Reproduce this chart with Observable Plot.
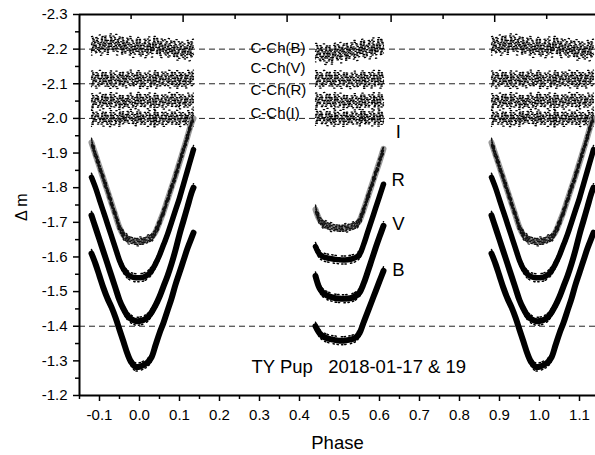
<!DOCTYPE html>
<html><head><meta charset="utf-8">
<script src="https://cdn.jsdelivr.net/npm/d3@7"></script>
<script src="https://cdn.jsdelivr.net/npm/@observablehq/plot@0.6"></script>
<style>html,body{margin:0;padding:0;background:#fff}svg{display:block}</style>
</head><body><div id="chart"></div>
<script>
// ---- Light curves: primary eclipse (shown at phase and phase+1) ----
const primaryPhase = [-0.12,-0.11,-0.10,-0.09,-0.08,-0.07,-0.06,-0.05,-0.04,-0.03,-0.02,-0.01,0.00,0.01,0.02,0.03,0.04,0.05,0.06,0.07,0.08,0.09,0.10,0.11,0.12,0.13,0.135];
const primaryI = [-1.930,-1.895,-1.860,-1.825,-1.790,-1.755,-1.720,-1.685,-1.663,-1.652,-1.648,-1.645,-1.645,-1.646,-1.650,-1.657,-1.672,-1.700,-1.730,-1.765,-1.800,-1.835,-1.872,-1.910,-1.948,-1.987,-2.000];
const primaryR = [-1.830,-1.800,-1.765,-1.730,-1.695,-1.660,-1.625,-1.590,-1.565,-1.550,-1.543,-1.540,-1.540,-1.542,-1.548,-1.560,-1.580,-1.605,-1.635,-1.665,-1.700,-1.735,-1.770,-1.810,-1.850,-1.890,-1.910];
const primaryV = [-1.720,-1.685,-1.650,-1.615,-1.580,-1.545,-1.510,-1.475,-1.450,-1.430,-1.420,-1.415,-1.415,-1.418,-1.425,-1.440,-1.460,-1.485,-1.515,-1.545,-1.580,-1.620,-1.665,-1.705,-1.745,-1.785,-1.800];
const primaryB = [-1.610,-1.580,-1.545,-1.510,-1.480,-1.455,-1.425,-1.390,-1.355,-1.320,-1.295,-1.283,-1.283,-1.288,-1.295,-1.310,-1.345,-1.380,-1.410,-1.445,-1.480,-1.520,-1.555,-1.590,-1.625,-1.655,-1.670];

// ---- Light curves: secondary eclipse ----
const secondaryPhase = [0.44,0.45,0.46,0.47,0.48,0.49,0.50,0.51,0.52,0.53,0.54,0.55,0.56,0.57,0.58,0.59,0.60,0.61];
const secondaryI = [-1.737,-1.708,-1.695,-1.690,-1.686,-1.684,-1.683,-1.683,-1.685,-1.687,-1.692,-1.705,-1.735,-1.770,-1.805,-1.840,-1.875,-1.912];
const secondaryR = [-1.630,-1.608,-1.600,-1.597,-1.595,-1.593,-1.592,-1.591,-1.592,-1.594,-1.598,-1.607,-1.635,-1.670,-1.705,-1.740,-1.775,-1.810];
const secondaryV = [-1.545,-1.510,-1.495,-1.488,-1.484,-1.481,-1.480,-1.479,-1.480,-1.482,-1.487,-1.497,-1.522,-1.555,-1.590,-1.625,-1.658,-1.690];
const secondaryB = [-1.400,-1.380,-1.370,-1.365,-1.362,-1.360,-1.358,-1.358,-1.360,-1.362,-1.367,-1.380,-1.410,-1.440,-1.470,-1.500,-1.530,-1.560];

// ---- Comparison - check star differences ----
const compPhaseP = [-0.12,-0.10,-0.08,-0.06,-0.04,-0.02,0.00,0.02,0.04,0.06,0.08,0.10,0.12,0.135];
const compBP = [-2.207,-2.212,-2.215,-2.214,-2.210,-2.207,-2.205,-2.206,-2.208,-2.205,-2.200,-2.198,-2.196,-2.200];
const compVP = [-2.112,-2.114,-2.113,-2.112,-2.114,-2.115,-2.113,-2.112,-2.113,-2.115,-2.114,-2.113,-2.114,-2.115];
const compRP = [-2.048,-2.050,-2.052,-2.050,-2.048,-2.050,-2.052,-2.051,-2.049,-2.050,-2.052,-2.051,-2.050,-2.050];
const compIP = [-2.000,-2.001,-2.000,-1.999,-2.002,-2.003,-2.001,-2.000,-1.999,-2.000,-2.001,-2.000,-1.999,-2.000];
const compPhaseS = [0.44,0.47,0.50,0.53,0.56,0.59,0.61];
const compBS = [-2.188,-2.186,-2.190,-2.195,-2.200,-2.204,-2.205];
const compVS = [-2.113,-2.114,-2.113,-2.112,-2.113,-2.114,-2.113];
const compRS = [-2.050,-2.052,-2.050,-2.048,-2.050,-2.051,-2.050];
const compIS = [-2.003,-2.002,-2.000,-2.001,-2.002,-2.001,-2.000];

// ---- Reference levels and labels ----
const refLevels = [-2.2,-2.1,-2.0,-1.4];
const compLabels = ["C-Ch(B)","C-Ch(V)","C-Ch(R)","C-Ch(I)"];
const compLabelY = [-2.204,-2.144,-2.081,-2.014];
const bandLabels = ["I","R","V","B"];
const bandLabelY = [-1.961,-1.821,-1.694,-1.561];
const titleText = "TY Pup   2018-01-17 & 19";

// ---- Axes ticks ----
const xDomain = [-0.15, 1.14];
const yDomain = [-1.2, -2.3];
const xMajor = [-0.1,0,0.1,0.2,0.3,0.4,0.5,0.6,0.7,0.8,0.9,1.0,1.1];
const xMinor = [-0.15,-0.05,0.05,0.15,0.25,0.35,0.45,0.55,0.65,0.75,0.85,0.95,1.05];
const yMajor = [-2.3,-2.2,-2.1,-2.0,-1.9,-1.8,-1.7,-1.6,-1.5,-1.4,-1.3,-1.2];
const yMinor = [-2.25,-2.15,-2.05,-1.95,-1.85,-1.75,-1.65,-1.55,-1.45,-1.35,-1.25];
const topMajor = [0.109,0.369,0.629,0.888];
const topMinor = [-0.021,0.239,0.5,0.759,1.018];

// ---- build tables ----
function rows(phases, mags, band, seg, shift = 0) {
  return phases.map((p, i) => ({phase: p + shift, mag: mags[i], band, seg}));
}
const curves = [];
for (const [band, pm, sm] of [["I",primaryI,secondaryI],["R",primaryR,secondaryR],["V",primaryV,secondaryV],["B",primaryB,secondaryB]]) {
  curves.push(...rows(primaryPhase, pm, band, band+"p0"));
  curves.push(...rows(primaryPhase, pm, band, band+"p1", 1));
  curves.push(...rows(secondaryPhase, sm, band, band+"s"));
}
const comps = [];
for (const [band, pm, sm] of [["B",compBP,compBS],["V",compVP,compVS],["R",compRP,compRS],["I",compIP,compIS]]) {
  comps.push(...rows(compPhaseP, pm, band, band+"p0"));
  comps.push(...rows(compPhaseP, pm, band, band+"p1", 1));
  comps.push(...rows(compPhaseS, sm, band, band+"s"));
}
const fmt = d => (Math.abs(d) < 1e-9 ? 0 : d).toFixed(1);

// ---- styling: speckle texture for the scatter (pixel offsets + dash patterns) ----
const dense = ["1.3 1.2 1.3 2.1 1.3 0.9 1.3 2.7 1.3 1.6", "1.3 2.2 1.3 1.0 1.3 1.9 1.3 1.3 1.3 3.0", "1.3 1.5 1.3 2.8 1.3 1.1 1.3 1.8"];
const medium = ["1.3 2.6 1.3 1.7 1.3 3.9 1.3 2.3 1.3 4.6", "1.3 3.4 1.3 2.0 1.3 5.1 1.3 1.6", "1.3 1.9 1.3 4.4 1.3 2.7 1.3 3.3"];
const sparse = ["1.3 6.5 1.3 9.8 1.3 4.2 1.3 13", "1.3 11 1.3 5.3 1.3 8.1 1.3 15", "1.3 7.7 1.3 12.5 1.3 5.9"];
const speckle = {
  B: [-10,-8,-6.5,-5,-3.5,-2,-0.5,1,2.5,4,5.5,7,8.5,10.5],
  V: [-8.5,-6.5,-5,-3.5,-2,-0.5,1,2.5,4,5.5,7,9],
  R: [-8,-6,-4.5,-3,-1.5,0,1.5,3,4.5,6,8],
  I: [-8,-6,-4.5,-3,-1.5,0,1.5,3,4.5,6,8]
};
const compMarks = [];
for (const band of ["B","V","R","I"]) {
  const data = comps.filter(d => d.band === band);
  const core = band === "B" ? 4.5 : 3.5;
  speckle[band].forEach((dy, k) => {
    const a = Math.abs(dy);
    const pats = a <= core ? dense : a <= core + 3.5 ? medium : sparse;
    compMarks.push(Plot.line(data, {x: "phase", y: "mag", z: "seg", dy, curve: "catmull-rom",
      stroke: "#000", strokeWidth: 1.3, strokeDasharray: pats[k % 3],
      strokeDashoffset: (k * 3.7) % 9}));
  });
}
const curveStyle = {
  B: {stroke: "#000", strokeWidth: 6},
  V: {stroke: "#000", strokeWidth: 6},
  R: {stroke: "#000", strokeWidth: 5.5}
};
const curveMarks = [];
// I band: open-circle symbols -> grey speckled ribbon
{
  const data = curves.filter(d => d.band === "I");
  curveMarks.push(Plot.line(data, {x: "phase", y: "mag", z: "seg", curve: "catmull-rom", stroke: "#9a9a9a", strokeWidth: 6}));
  [-3, -1.5, 0, 1.5, 3].forEach((dy, k) => {
    curveMarks.push(Plot.line(data, {x: "phase", y: "mag", z: "seg", curve: "catmull-rom", dy,
      stroke: "#111", strokeWidth: 1.4, strokeDasharray: dense[k % 3], strokeDashoffset: (k * 2.3) % 5}));
  });
  [-4.5, 4.5].forEach((dy, k) => {
    curveMarks.push(Plot.line(data, {x: "phase", y: "mag", z: "seg", curve: "catmull-rom", dy,
      stroke: "#111", strokeWidth: 1.3, strokeDasharray: sparse[k % 3], strokeDashoffset: k * 4}));
  });
}
for (const band of ["R","V","B"]) {
  const data = curves.filter(d => d.band === band);
  curveMarks.push(Plot.line(data, {x: "phase", y: "mag", z: "seg", curve: "catmull-rom", ...curveStyle[band]}));
  [-4, 4].forEach((dy, k) => {
    curveMarks.push(Plot.line(data, {x: "phase", y: "mag", z: "seg", curve: "catmull-rom", dy,
      stroke: "#000", strokeWidth: 1.5, strokeDasharray: medium[(k + 1) % 3], strokeDashoffset: k * 3}));
  });
}

const chart = Plot.plot({
  width: 595, height: 455,
  marginLeft: 79, marginRight: 0, marginTop: 14, marginBottom: 60,
  style: {fontFamily: "'Liberation Sans', Arial, sans-serif", fontSize: "15px", background: "#fff", color: "#000", overflow: "visible"},
  x: {domain: xDomain},
  y: {domain: yDomain},
  marks: [
    Plot.ruleY(refLevels, {stroke: "#222", strokeWidth: 1, strokeDasharray: "6 4"}),
    ...compMarks,
    ...curveMarks,
    Plot.text(compLabels, {x: () => 0.2775, y: (d, i) => compLabelY[i], text: d => d, textAnchor: "start", fontSize: 15}),
    Plot.text(bandLabels, {x: () => 0.647, y: (d, i) => bandLabelY[i], text: d => d, fontSize: 18.5}),
    Plot.text([titleText], {x: () => 0.28, y: () => -1.281, text: d => d, textAnchor: "start", fontSize: 18.5}),
    Plot.axisX(xMajor, {tickSize: 6, tickPadding: 8, strokeWidth: 1.5, tickFormat: fmt, label: null}),
    Plot.axisX(xMinor, {tickSize: 4, strokeWidth: 1.5, tickFormat: () => "", label: null}),
    Plot.axisX(topMajor, {anchor: "top", tickSize: -7, strokeWidth: 1.5, tickFormat: () => "", label: null}),
    Plot.axisX(topMinor, {anchor: "top", tickSize: -4, strokeWidth: 1.5, tickFormat: () => "", label: null}),
    Plot.axisY(yMajor, {tickSize: 6, tickPadding: 6, strokeWidth: 1.5, tickFormat: fmt, label: null}),
    Plot.axisY(yMinor, {tickSize: 4, strokeWidth: 1.5, tickFormat: () => "", label: null}),
    Plot.ruleX([xDomain[0]], {strokeWidth: 2}),
    Plot.ruleY([yDomain[0], yDomain[1]], {strokeWidth: 2}),
    Plot.text(["Phase"], {frameAnchor: "bottom", dy: 48, text: d => d, fontSize: 18.5, lineAnchor: "middle"}),
    Plot.text(["\u0394 m"], {frameAnchor: "left", dx: -58, dy: 16, rotate: -90, text: d => d, fontSize: 16, lineAnchor: "middle"})
  ]
});
document.getElementById("chart").append(chart);
d3.select(chart).selectAll("text").style("white-space", "pre");
</script></body></html>
